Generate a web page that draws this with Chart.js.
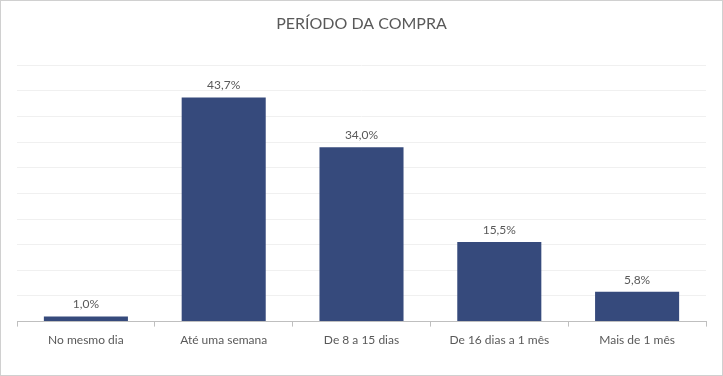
<!DOCTYPE html>
<html>
<head>
<meta charset="utf-8">
<script src="https://cdn.jsdelivr.net/npm/chart.js@4"></script>
<style>
  html, body { margin: 0; padding: 0; background: #fff; }
  #wrap { width: 723px; height: 376px; box-sizing: border-box; border: 1px solid #d0d0d0; }
</style>
</head>
<body>
<div id="wrap"><canvas id="chart" width="721" height="374"></canvas></div>
<script>
const categories = ['No mesmo dia', 'Até uma semana', 'De 8 a 15 dias', 'De 16 dias a 1 mês', 'Mais de 1 mês'];
const values = [1.0, 43.7, 34.0, 15.5, 5.8];

// rótulos de dados acima das barras
const barLabels = {
  id: 'barLabels',
  afterDatasetsDraw(chart) {
    const ctx = chart.ctx;
    const meta = chart.getDatasetMeta(0);
    ctx.save();
    ctx.font = '12px Lato';
    ctx.fillStyle = '#595959';
    ctx.textAlign = 'center';
    ctx.textBaseline = 'bottom';
    meta.data.forEach((bar, i) => {
      ctx.fillText(values[i].toFixed(1).replace('.', ',') + '%', bar.x, bar.y - 6);
    });
    ctx.restore();
  }
};

new Chart(document.getElementById('chart'), {
  type: 'bar',
  data: {
    labels: categories,
    datasets: [{
      data: values,
      backgroundColor: '#364a7c',
      borderWidth: 0,
      barPercentage: 0.61,
      categoryPercentage: 1
    }]
  },
  options: {
    responsive: false,
    animation: false,
    layout: { padding: { left: 16, right: 16, top: 13, bottom: 22 } },
    plugins: {
      legend: { display: false },
      tooltip: { enabled: false },
      title: {
        display: true,
        text: 'PERÍODO DA COMPRA',
        color: '#595959',
        font: { family: 'Lato', size: 16, weight: 'normal' },
        padding: { top: 0, bottom: 32 }
      }
    },
    scales: {
      y: {
        min: 0,
        max: 50,
        ticks: { display: false, stepSize: 5 },
        grid: { color: '#f0f0f0', drawTicks: false },
        border: { display: false }
      },
      x: {
        ticks: { color: '#595959', font: { family: 'Lato', size: 12 }, padding: 6 },
        grid: { offset: true, drawOnChartArea: false, drawTicks: true, tickLength: 5, color: '#bfbfbf' },
        border: { color: '#bfbfbf' }
      }
    }
  },
  plugins: [barLabels]
});
</script>
</body>
</html>
